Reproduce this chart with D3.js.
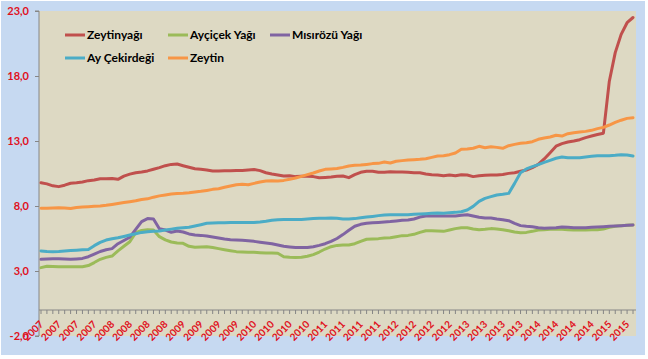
<!DOCTYPE html>
<html>
<head>
<meta charset="utf-8">
<script src="https://cdn.jsdelivr.net/npm/d3@7"></script>
<style>
  html, body { margin: 0; padding: 0; background: #ffffff; }
  svg { display: block; }
</style>
</head>
<body>
<div id="chart"></div>
<script>
// ---- DATA ----
const seriesNames = ["Zeytinyağı", "Ayçiçek Yağı", "Mısırözü Yağı", "Ay Çekirdeği", "Zeytin"];
const seriesColors = ["#C0504D", "#9BBB59", "#8064A2", "#4BACC6", "#F79646"];

// monthly categories Jan 2007 .. May 2015
const categoryYears = [2007, 2008, 2009, 2010, 2011, 2012, 2013, 2014, 2015];
const categories = [];
categoryYears.forEach(yr => {
  const n = yr === 2015 ? 5 : 12;
  for (let m = 1; m <= n; m++) categories.push(yr + "-" + String(m).padStart(2, "0"));
});

// tick labels shown every third month
const tickLabels = ["2007","2007","2007","2007","2008","2008","2008","2008","2009","2009","2009","2009",
  "2010","2010","2010","2010","2011","2011","2011","2011","2012","2012","2012","2012",
  "2013","2013","2013","2013","2014","2014","2014","2014","2015","2015"];

const yTicks = [-2, 3, 8, 13, 18, 23];

const zeytinyagi = [9.79,9.7,9.55,9.49,9.6,9.75,9.79,9.85,9.95,10.0,10.1,10.1,10.12,10.05,10.3,10.45,10.56,10.62,10.7,10.83,
  10.95,11.1,11.2,11.23,11.1,10.98,10.87,10.82,10.77,10.69,10.69,10.72,10.72,10.74,10.74,10.77,10.8,10.72,10.56,10.46,
  10.38,10.31,10.33,10.26,10.28,10.28,10.26,10.18,10.2,10.23,10.28,10.31,10.18,10.41,10.59,10.67,10.67,10.59,10.59,10.64,
  10.62,10.62,10.59,10.56,10.56,10.46,10.41,10.38,10.33,10.38,10.33,10.41,10.38,10.26,10.33,10.36,10.38,10.38,10.43,10.51,
  10.56,10.67,10.77,10.95,11.2,11.62,12.1,12.6,12.8,12.92,13.0,13.1,13.26,13.38,13.5,13.6,17.6,19.8,21.2,22.1,22.5];

const aycicekYagi = [3.26,3.36,3.34,3.33,3.33,3.33,3.33,3.33,3.42,3.65,3.9,4.05,4.15,4.55,4.9,5.25,5.95,6.12,6.18,6.15,
  5.64,5.4,5.23,5.15,5.13,4.9,4.82,4.85,4.87,4.8,4.72,4.64,4.56,4.49,4.46,4.44,4.44,4.41,4.38,4.38,
  4.36,4.1,4.05,4.03,4.05,4.13,4.26,4.46,4.69,4.87,4.97,5.0,5.0,5.1,5.28,5.44,5.46,5.49,5.54,5.56,
  5.64,5.72,5.74,5.82,5.97,6.1,6.1,6.08,6.05,6.15,6.26,6.33,6.33,6.23,6.18,6.21,6.26,6.23,6.18,6.1,
  6.0,5.95,5.97,6.05,6.15,6.18,6.21,6.23,6.21,6.18,6.15,6.15,6.15,6.18,6.18,6.23,6.36,6.44,6.49,6.51,6.54];

const misirozuYagi = [3.9,3.93,3.95,3.95,3.92,3.9,3.93,3.97,4.1,4.3,4.5,4.63,4.72,5.1,5.35,5.6,6.2,6.8,7.03,7.0,
  6.25,6.15,5.98,6.08,6.0,5.85,5.77,5.74,5.69,5.62,5.54,5.46,5.41,5.38,5.36,5.33,5.28,5.21,5.15,5.1,
  5.0,4.9,4.85,4.8,4.8,4.8,4.87,4.97,5.1,5.28,5.5,5.8,6.13,6.44,6.59,6.67,6.72,6.74,6.77,6.8,
  6.85,6.9,6.92,7.0,7.15,7.23,7.23,7.23,7.23,7.23,7.23,7.28,7.33,7.23,7.13,7.08,7.08,7.0,6.95,6.87,
  6.67,6.49,6.44,6.41,6.33,6.28,6.31,6.33,6.38,6.36,6.33,6.33,6.33,6.36,6.38,6.41,6.44,6.46,6.49,6.51,6.54];

const ayCekirdegi = [4.54,4.5,4.49,4.5,4.53,4.57,4.6,4.63,4.66,4.95,5.2,5.38,5.48,5.56,5.66,5.77,5.87,5.97,6.02,6.05,
  6.08,6.15,6.22,6.28,6.33,6.37,6.46,6.56,6.67,6.69,6.72,6.72,6.74,6.74,6.74,6.74,6.74,6.77,6.82,6.9,
  6.95,6.97,6.97,6.97,6.97,7.0,7.03,7.05,7.05,7.08,7.05,7.0,7.0,7.03,7.1,7.15,7.2,7.26,7.31,7.33,
  7.33,7.33,7.33,7.36,7.38,7.41,7.44,7.46,7.44,7.49,7.51,7.56,7.69,7.97,8.36,8.59,8.72,8.85,8.9,8.97,
  9.74,10.56,10.85,11.03,11.18,11.36,11.51,11.67,11.77,11.72,11.72,11.72,11.77,11.82,11.87,11.87,11.87,11.9,11.95,11.92,11.85];

const zeytin = [7.82,7.83,7.85,7.87,7.85,7.8,7.88,7.92,7.95,7.98,8.0,8.05,8.12,8.2,8.27,8.33,8.4,8.5,8.55,8.68,
  8.78,8.85,8.92,8.97,8.98,9.02,9.08,9.13,9.2,9.28,9.33,9.44,9.54,9.64,9.67,9.64,9.74,9.85,9.92,9.95,
  9.92,9.97,10.05,10.15,10.28,10.41,10.54,10.69,10.82,10.85,10.88,10.97,11.08,11.13,11.15,11.2,11.26,11.28,11.38,11.31,
  11.44,11.49,11.54,11.56,11.59,11.64,11.74,11.85,11.87,11.95,12.08,12.36,12.38,12.44,12.59,12.48,12.56,12.51,12.44,12.64,
  12.74,12.82,12.87,12.95,13.13,13.23,13.31,13.44,13.38,13.56,13.64,13.69,13.74,13.82,13.95,14.05,14.23,14.43,14.6,14.74,14.79];

const seriesValues = [zeytinyagi, aycicekYagi, misirozuYagi, ayCekirdegi, zeytin];

// ---- DRAW ----
const W = 648, H = 359;
const plot = { left: 39, right: 636, top: 11, bottom: 336 };
const axisRed = "#E0101C";
const fontFam = "Lato, 'Open Sans', sans-serif";

const svg = d3.select("#chart").append("svg").attr("width", W).attr("height", H);

svg.append("rect").attr("x", 1).attr("y", 1).attr("width", 644).attr("height", 354)
  .attr("fill", "#C6D9F1");

svg.append("rect").attr("x", plot.left).attr("y", plot.top)
  .attr("width", plot.right - plot.left).attr("height", plot.bottom - plot.top)
  .attr("fill", "#DDD9C3");

const x = d3.scalePoint().domain(categories).range([41, 633]);
const y = d3.scaleLinear().domain([-2, 23]).range([plot.bottom, plot.top]);

// Y axis
const yAxis = svg.append("g").attr("transform", `translate(${plot.left},0)`)
  .call(d3.axisLeft(y).tickValues(yTicks).tickSize(4).tickPadding(6)
    .tickFormat(d => d.toFixed(1).replace(".", ",")));
yAxis.select(".domain").attr("stroke", "#868686").attr("d", `M-4,${plot.top}H0V${plot.bottom}H-4`);
yAxis.selectAll(".tick line").attr("stroke", "#868686");
yAxis.selectAll(".tick text").attr("fill", axisRed).attr("font-family", fontFam)
  .attr("font-weight", "bold").attr("font-size", "11px");

// X axis at y = 0
const x0 = y(0);
const xAxis = svg.append("g").attr("transform", `translate(0,${x0})`);
xAxis.append("line").attr("x1", plot.left).attr("x2", plot.right).attr("y1", 0).attr("y2", 0)
  .attr("stroke", "#868686");
xAxis.selectAll("line.tk").data(categories).enter().append("line").attr("class", "tk")
  .attr("x1", d => x(d)).attr("x2", d => x(d)).attr("y1", 0).attr("y2", 4)
  .attr("stroke", "#868686");
const labelCats = categories.filter((d, i) => i % 3 === 0);
xAxis.selectAll("text.xl").data(labelCats).enter().append("text").attr("class", "xl")
  .attr("transform", d => `translate(${x(d) + 3},${15}) rotate(-45)`)
  .attr("text-anchor", "end")
  .attr("fill", axisRed).attr("font-family", fontFam).attr("font-weight", "bold").attr("font-size", "10px")
  .text((d, i) => tickLabels[i]);

// Lines
const line = d3.line().x((d, i) => x(categories[i])).y(d => y(d)).curve(d3.curveLinear);
seriesValues.forEach((vals, k) => {
  svg.append("path").datum(vals).attr("d", line)
    .attr("fill", "none").attr("stroke", seriesColors[k]).attr("stroke-width", 3)
    .attr("stroke-linejoin", "round").attr("stroke-linecap", "round");
});

// Legend
const legendPos = [[65, 35], [168, 35], [270, 35], [65, 58], [168, 58]];
const legendOrder = [0, 1, 2, 3, 4];
legendOrder.forEach((k, j) => {
  const [lx, ly] = legendPos[j];
  const g = svg.append("g").attr("transform", `translate(${lx},${ly})`);
  g.append("line").attr("x1", 0).attr("x2", 20).attr("y1", 0).attr("y2", 0)
    .attr("stroke", seriesColors[k]).attr("stroke-width", 3);
  g.append("text").attr("x", 22).attr("y", 4).attr("font-family", fontFam)
    .attr("font-weight", "bold").attr("font-size", "12px").attr("fill", "#000")
    .text(seriesNames[k]);
});
</script>
</body>
</html>
